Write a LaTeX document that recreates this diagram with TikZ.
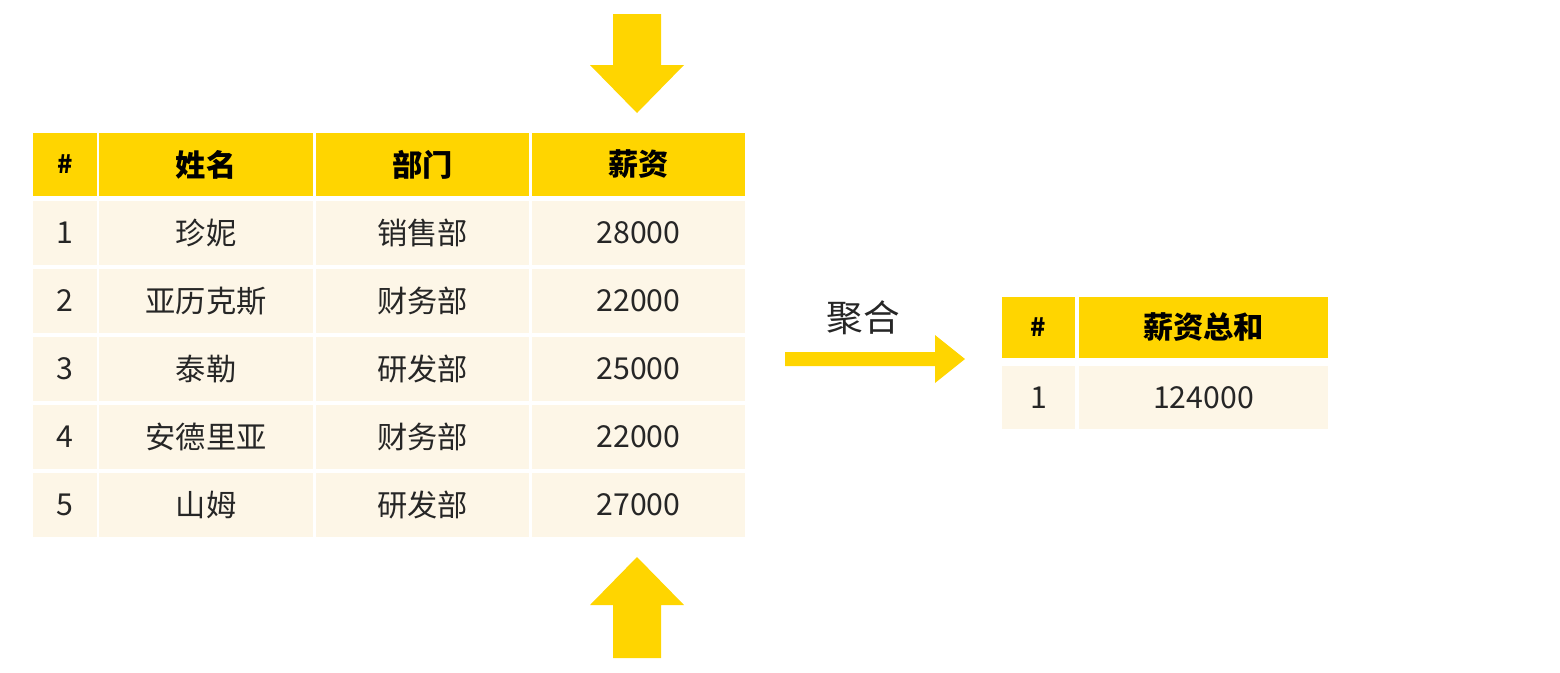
\documentclass[tikz,border=0pt]{standalone}
\usepackage{fontspec}
\setmainfont{Noto Sans CJK SC}
\usetikzlibrary{positioning}
\definecolor{HeadYellow}{RGB}{255, 213, 0}
\definecolor{RowCream}{RGB}{253, 246, 231}

\begin{document}
\begin{tikzpicture}[x=0.01cm, y=-0.01cm,
    cell/.style={rectangle, inner sep=0pt, font=\fontsize{8.6}{10}\selectfont, text=black!85},
    head/.style={cell, fill=HeadYellow, font=\fontsize{8.6}{10}\selectfont\bfseries, text=black},
    body/.style={cell, fill=RowCream}]
    \path[use as bounding box] (0,0) rectangle (1560,672);

    % Source table
    \foreach \name/\xa/\xb in {c0/33/97, c1/99/313, c2/316/529, c3/532/745} {
        \node[head, minimum width={(\xb-\xa)*0.01cm}, minimum height=0.63cm]
            (h\name) at ({(\xa+\xb)/2},164.5) {};
    }
    \node[font=\fontsize{7.2}{9}\selectfont\bfseries] at (hc0) {\#};
    \node[font=\fontsize{8.6}{10}\selectfont\bfseries] at (hc1) {姓名};
    \node[font=\fontsize{8.6}{10}\selectfont\bfseries] at (hc2) {部门};
    \node[font=\fontsize{8.6}{10}\selectfont\bfseries] at (hc3) {薪资};

    \foreach \r/\nm/\dep/\pay [count=\k from 0] in {1/珍妮/销售部/28000, 2/亚历克斯/财务部/22000,
            3/泰勒/研发部/25000, 4/安德里亚/财务部/22000, 5/山姆/研发部/27000} {
        \pgfmathsetmacro{\yc}{233+68*\k}
        \node[body, minimum width=0.64cm, minimum height=0.64cm] (r\r c0) at (65,\yc) {\r};
        \node[body, minimum width=2.14cm, minimum height=0.64cm] (r\r c1) at (206,\yc) {\nm};
        \node[body, minimum width=2.13cm, minimum height=0.64cm] (r\r c2) at (422.5,\yc) {\dep};
        \node[body, minimum width=2.13cm, minimum height=0.64cm] (r\r c3) at (638.5,\yc) {\pay};
    }

    % Column pointers
    \fill[HeadYellow] (613,14) -- (661,14) -- (661,65) -- (684,65) -- (637,113)
        -- (590,65) -- (613,65) -- cycle;
    \fill[HeadYellow] (613,658) -- (661,658) -- (661,605) -- (684,605) -- (637,557)
        -- (590,605) -- (613,605) -- cycle;

    % Aggregation arrow
    \fill[HeadYellow] (785,352) -- (935,352) -- (935,335) -- (965,359) -- (935,383)
        -- (935,366) -- (785,366) -- cycle;
    \node[cell, font=\fontsize{10.4}{12}\selectfont] (agg) at (863,318) {聚合};

    % Result table
    \node[head, minimum width=0.73cm, minimum height=0.61cm, font=\fontsize{7.2}{9}\selectfont\bfseries] (t0) at (1038.5,327.5) {\#};
    \node[head, minimum width=2.49cm, minimum height=0.61cm] (t1) at (1203.5,327.5) {薪资总和};
    \node[body, minimum width=0.73cm, minimum height=0.63cm] (s0) at (1038.5,397.5) {1};
    \node[body, minimum width=2.49cm, minimum height=0.63cm] (s1) at (1203.5,397.5) {124000};
\end{tikzpicture}
\end{document}
